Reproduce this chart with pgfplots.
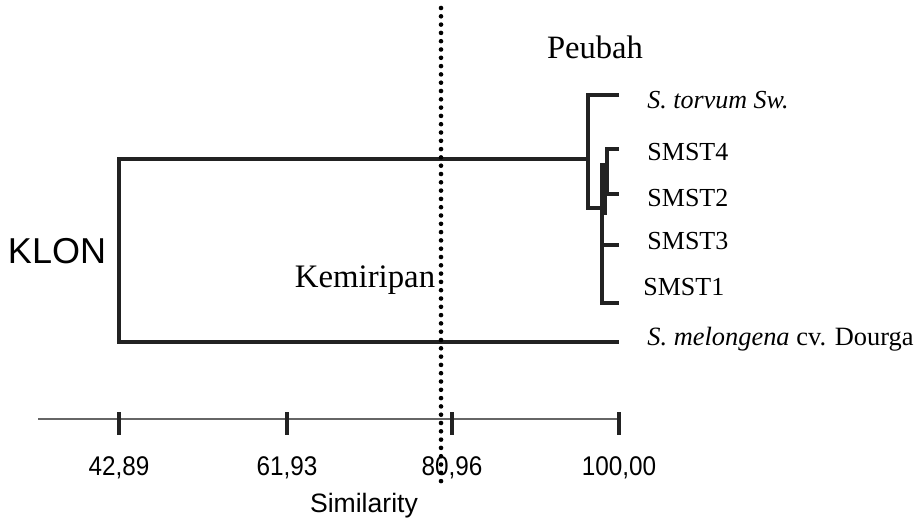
\documentclass[border=0pt]{standalone}
\usepackage{pgfplots}
\pgfplotsset{compat=1.18}
\usepackage{fontspec}
\setmainfont{Liberation Serif}
\setsansfont{Liberation Sans}
\definecolor{ink}{HTML}{222222}
\begin{document}
\begin{tikzpicture}
\begin{axis}[width=459pt,height=259.5pt,scale only axis,
  xmin=29.298,xmax=134.15,ymin=0,ymax=519,y dir=reverse,
  hide axis,clip=false]
% dendrogram
\addplot[ink,line width=2.1pt,mark=none] coordinates {(96.46,159)(42.89,159)(42.89,342)(100,342)};
\addplot[ink,line width=2.1pt,mark=none] coordinates {(100,95)(96.46,95)(96.46,208)(98.06,208)};
\addplot[ink,line width=2.1pt,mark=none] coordinates {(100,149)(98.63,149)(98.63,194)(100,194)};
\addplot[ink,line width=2.1pt,mark=none] coordinates {(98.63,165)(98.06,165)(98.06,303)(100,303)};
\addplot[ink,line width=2.1pt,mark=none] coordinates {(98.06,245)(100,245)};
\addplot[ink,line width=1.5pt,mark=none] coordinates {(98.4,165)(98.4,215)};
% similarity axis
\addplot[black!60,line width=0.9pt,mark=none] coordinates {(33.64,419)(100,419)};
\addplot[ink,line width=2pt,mark=none] coordinates {(42.89,412)(42.89,435)};
\addplot[ink,line width=2pt,mark=none] coordinates {(62.08,412)(62.08,435)};
\addplot[ink,line width=2pt,mark=none] coordinates {(80.92,412)(80.92,435)};
\addplot[ink,line width=2pt,mark=none] coordinates {(100,412)(100,435)};
% dotted cut line
\addplot[black,line width=2.3pt,line cap=round,dash pattern=on 0pt off 4.15pt,mark=none] coordinates {(79.67,8)(79.67,483)};
% labels
\begin{scope}[every node/.style={inner sep=0pt}]
\node[anchor=base,font=\sffamily\fontsize{13.5pt}{15pt}\selectfont,xscale=0.9] at (axis cs:42.89,475) {42,89};
\node[anchor=base,font=\sffamily\fontsize{13.5pt}{15pt}\selectfont,xscale=0.9] at (axis cs:62.08,475) {61,93};
\node[anchor=base,font=\sffamily\fontsize{13.5pt}{15pt}\selectfont,xscale=0.9] at (axis cs:80.92,475) {80,96};
\node[anchor=base,font=\sffamily\fontsize{13.5pt}{15pt}\selectfont,xscale=0.9] at (axis cs:100,475) {100,00};
\node[anchor=base,font=\sffamily\fontsize{13.3pt}{15pt}\selectfont] at (axis cs:70.87,512) {Similarity};
\node[anchor=base,font=\sffamily\fontsize{18pt}{20pt}\selectfont] at (axis cs:35.81,263) {KLON};
\node[anchor=base,font=\fontsize{16.3pt}{18pt}\selectfont] at (axis cs:97.26,59) {Peubah};
\node[anchor=base,font=\fontsize{16.4pt}{18pt}\selectfont] at (axis cs:70.99,287) {Kemiripan};
\node[anchor=base west,font=\fontsize{13pt}{15pt}\selectfont] at (axis cs:103.20,108) {\textit{S. torvum Sw.}};
\node[anchor=base west,font=\fontsize{13pt}{15pt}\selectfont] at (axis cs:103.20,160) {SMST4};
\node[anchor=base west,font=\fontsize{13pt}{15pt}\selectfont] at (axis cs:103.20,206) {SMST2};
\node[anchor=base west,font=\fontsize{13pt}{15pt}\selectfont] at (axis cs:103.20,249) {SMST3};
\node[anchor=base west,font=\fontsize{13pt}{15pt}\selectfont] at (axis cs:102.74,295) {SMST1};
\node[anchor=base west,font=\fontsize{13.2pt}{15pt}\selectfont] at (axis cs:103.20,345) {\textit{S. melongena} cv. Dourga};
\end{scope}
\end{axis}
\pgfresetboundingbox
\path[use as bounding box] (current axis.south west) rectangle (current axis.north east);
\end{tikzpicture}
\end{document}
